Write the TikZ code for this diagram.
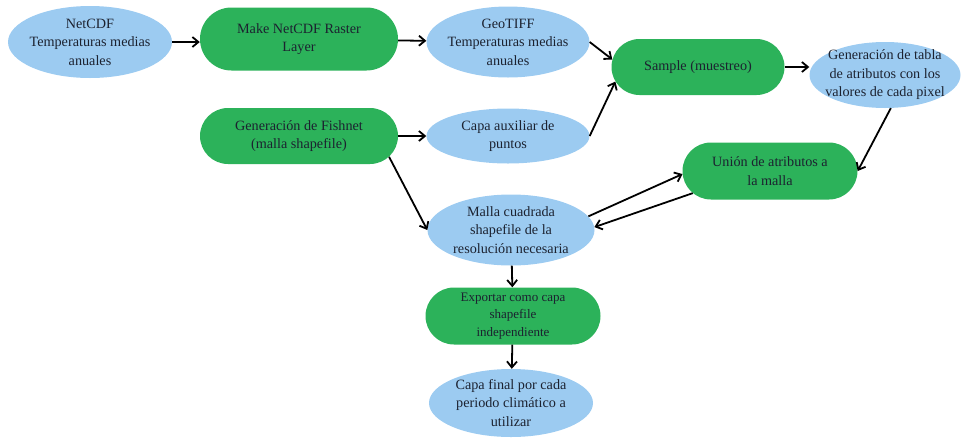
\documentclass[tikz,border=0pt]{standalone}
\usepackage{fontspec}
\setmainfont{Liberation Serif}
\usepackage{tikz}
\usetikzlibrary{shapes.geometric,shapes.misc,arrows.meta}
\usepackage{xcolor}
\definecolor{capa}{HTML}{9CCBF1}
\definecolor{proceso}{HTML}{2CB25A}
\definecolor{tinta}{HTML}{1C2230}
\newcommand{\texto}{\fontsize{14.2}{18.5}\selectfont}
\newcommand{\textochico}{\fontsize{13}{17.5}\selectfont}
\tikzset{
    datos/.style={ellipse, fill=capa, text=tinta, align=center, font=\texto,
        inner xsep=-10pt, inner ysep=-8pt},
    proceso/.style={rounded rectangle, fill=proceso, text=tinta, align=center,
        font=\texto, inner xsep=-16pt, inner ysep=-8pt},
    flecha/.style={line width=1.8pt, -{Straight Barb[length=6pt,width=10pt]}}
}

\begin{document}
\begin{tikzpicture}[x=1pt,y=-1pt]
    \useasboundingbox (0,0) rectangle (961,437);

    \node[datos, minimum width=164pt, minimum height=72pt] (netcdf) at (90,42)
        {NetCDF\\Temperaturas medias\\anuales};
    \node[proceso, minimum width=166pt, minimum height=63pt] (make) at (299,39)
        {Make NetCDF Raster\\Layer};
    \node[datos, minimum width=163pt, minimum height=71pt] (geotiff) at (508,42)
        {GeoTIFF\\Temperaturas medias\\anuales};
    \node[proceso, minimum width=166pt, minimum height=56pt] (fishnet) at (299,136)
        {Generación de Fishnet\\(malla shapefile)};
    \node[datos, minimum width=163pt, minimum height=55pt] (auxiliar) at (508,136)
        {Capa auxiliar de\\puntos};
    \node[proceso, minimum width=141pt, minimum height=56pt] (sample) at (698,67)
        {Sample (muestreo)};
    \node[datos, minimum width=151pt, minimum height=66pt] (tabla) at (885,75)
        {Generación de tabla\\de atributos con los\\valores de cada pixel};
    \node[proceso, minimum width=143pt, minimum height=57pt] (union) at (770,171)
        {Unión de atributos a\\la malla};
    \node[datos, minimum width=167pt, minimum height=71pt] (malla) at (511,230)
        {Malla cuadrada\\shapefile de la\\resolución necesaria};
    \node[proceso, minimum width=143pt, minimum height=57pt, font=\textochico] (exportar) at (513,316)
        {Exportar como capa\\shapefile\\independiente};
    \node[datos, minimum width=164pt, minimum height=68pt] (final) at (511,403)
        {Capa final por cada\\periodo climático a\\utilizar};

    \draw[flecha] (netcdf.east) -- (netcdf.east -| make.west);
    \draw[flecha] (make) -- (geotiff);
    \draw[flecha] (geotiff.east) -- (sample.175);
    \draw[flecha] (auxiliar.east) -- (sample.190);
    \draw[flecha] (sample.east) -- (sample.east -| tabla.west);
    \draw[flecha] (tabla.-80) -- (union.east);
    \draw[flecha] (fishnet) -- (auxiliar);
    \draw[flecha] (fishnet.-13) -- (malla.west);
    \draw[flecha] (malla.10) -- (union.182);
    \draw[flecha] (union.196) -- (malla.2);
    \draw[flecha] (malla) -- (exportar);
    \draw[flecha] (exportar) -- (final);
\end{tikzpicture}
\end{document}
